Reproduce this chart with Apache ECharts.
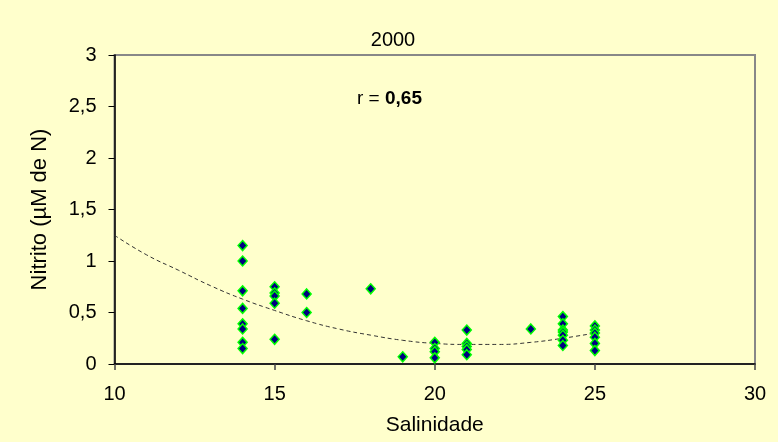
<!DOCTYPE html>
<html>
<head>
<meta charset="utf-8">
<script src="https://cdn.jsdelivr.net/npm/echarts@6/dist/echarts.min.js"></script>
<style>
html,body{margin:0;padding:0;background:#FFFFCC;}
#c{width:778px;height:442px;}
</style>
</head>
<body>
<div id="c"></div>
<script>
// Data
var salinidade = [14,14,14,14,14,14,14,14, 15,15,15,15,15, 16,16, 18, 19, 20,20,20,20, 21,21,21,21,21, 23, 24,24,24,24,24,24,24, 25,25,25,25,25,25];
var nitrito    = [1.15,1.00,0.71,0.54,0.39,0.34,0.21,0.15, 0.75,0.69,0.66,0.59,0.24, 0.68,0.50, 0.73, 0.07, 0.21,0.15,0.12,0.06, 0.33,0.20,0.17,0.14,0.09, 0.34, 0.46,0.39,0.33,0.31,0.28,0.23,0.18, 0.37,0.33,0.30,0.26,0.20,0.13];
var trendX = [10,11,12,13,14,15,16,17,18,19,20,21,22,23,24,25];
var trendY = [1.25,1.06,0.91,0.76,0.63,0.52,0.42,0.34,0.28,0.23,0.20,0.19,0.19,0.21,0.25,0.30];
var xTicks = [10,15,20,25,30];
var yTicks = [0,0.5,1,1.5,2,2.5,3];
var titleText = '2000';
var xName = 'Salinidade';
var yName = 'Nitrito (\u00B5M de N)';
var rLabel = '0,65';

var pts = salinidade.map(function(x,i){return [x, nitrito[i]];});
var trend = trendX.map(function(x,i){return [x, trendY[i]];});
var FF = 'Liberation Sans';

var chart = echarts.init(document.getElementById('c'), null, {renderer:'canvas'});
chart.setOption({
  backgroundColor:'#FFFFCC',
  animation:false,
  textStyle:{fontFamily:FF},
  title:{text:titleText,left:388,top:25,textAlign:'center',
    textStyle:{fontFamily:FF,fontSize:20,fontWeight:'normal',color:'#000'}},
  grid:{left:114.5,right:23,top:55,bottom:78,show:true,borderColor:'#888888',borderWidth:2,backgroundColor:'#FFFFCC'},
  xAxis:{type:'value',min:xTicks[0],max:xTicks[xTicks.length-1],interval:5,
    name:xName,nameLocation:'middle',nameGap:51,
    nameTextStyle:{fontFamily:FF,fontSize:21,color:'#000'},
    axisLine:{onZero:false,lineStyle:{color:'#000',width:1.5}},
    axisTick:{show:true,length:6,lineStyle:{color:'#444',width:1.5}},
    axisLabel:{show:true,fontFamily:FF,fontSize:20,color:'#000',margin:20},
    splitLine:{show:false}},
  yAxis:{type:'value',min:yTicks[0],max:yTicks[yTicks.length-1],interval:0.5,
    name:yName,nameLocation:'middle',nameGap:64,nameRotate:90,
    nameTextStyle:{fontFamily:FF,fontSize:22,color:'#000'},
    axisLine:{show:true,lineStyle:{color:'#000',width:1.5}},
    axisTick:{show:true,length:6,lineStyle:{color:'#000',width:1}},
    axisLabel:{show:true,fontFamily:FF,fontSize:20,color:'#000',margin:18,
      formatter:function(v){return String(v).replace('.',',');}},
    splitLine:{show:false}},
  graphic:[{type:'text',left:357,top:89,
    style:{rich:{a:{fontFamily:FF,fontSize:19,fill:'#000'},b:{fontFamily:FF,fontSize:19,fontWeight:'bold',fill:'#000'}},
      text:'{a|r = }{b|'+rLabel+'}'}}],
  series:[
    {type:'line',data:trend,smooth:true,showSymbol:false,silent:true,z:1,
      lineStyle:{color:'#333',width:1,type:[4,3]}},
    {type:'scatter',data:pts,symbol:'diamond',symbolSize:[9,10],z:3,
      itemStyle:{color:'#000080',borderColor:'#00FF00',borderWidth:1.5,opacity:1}}
  ]
});
</script>
</body>
</html>
